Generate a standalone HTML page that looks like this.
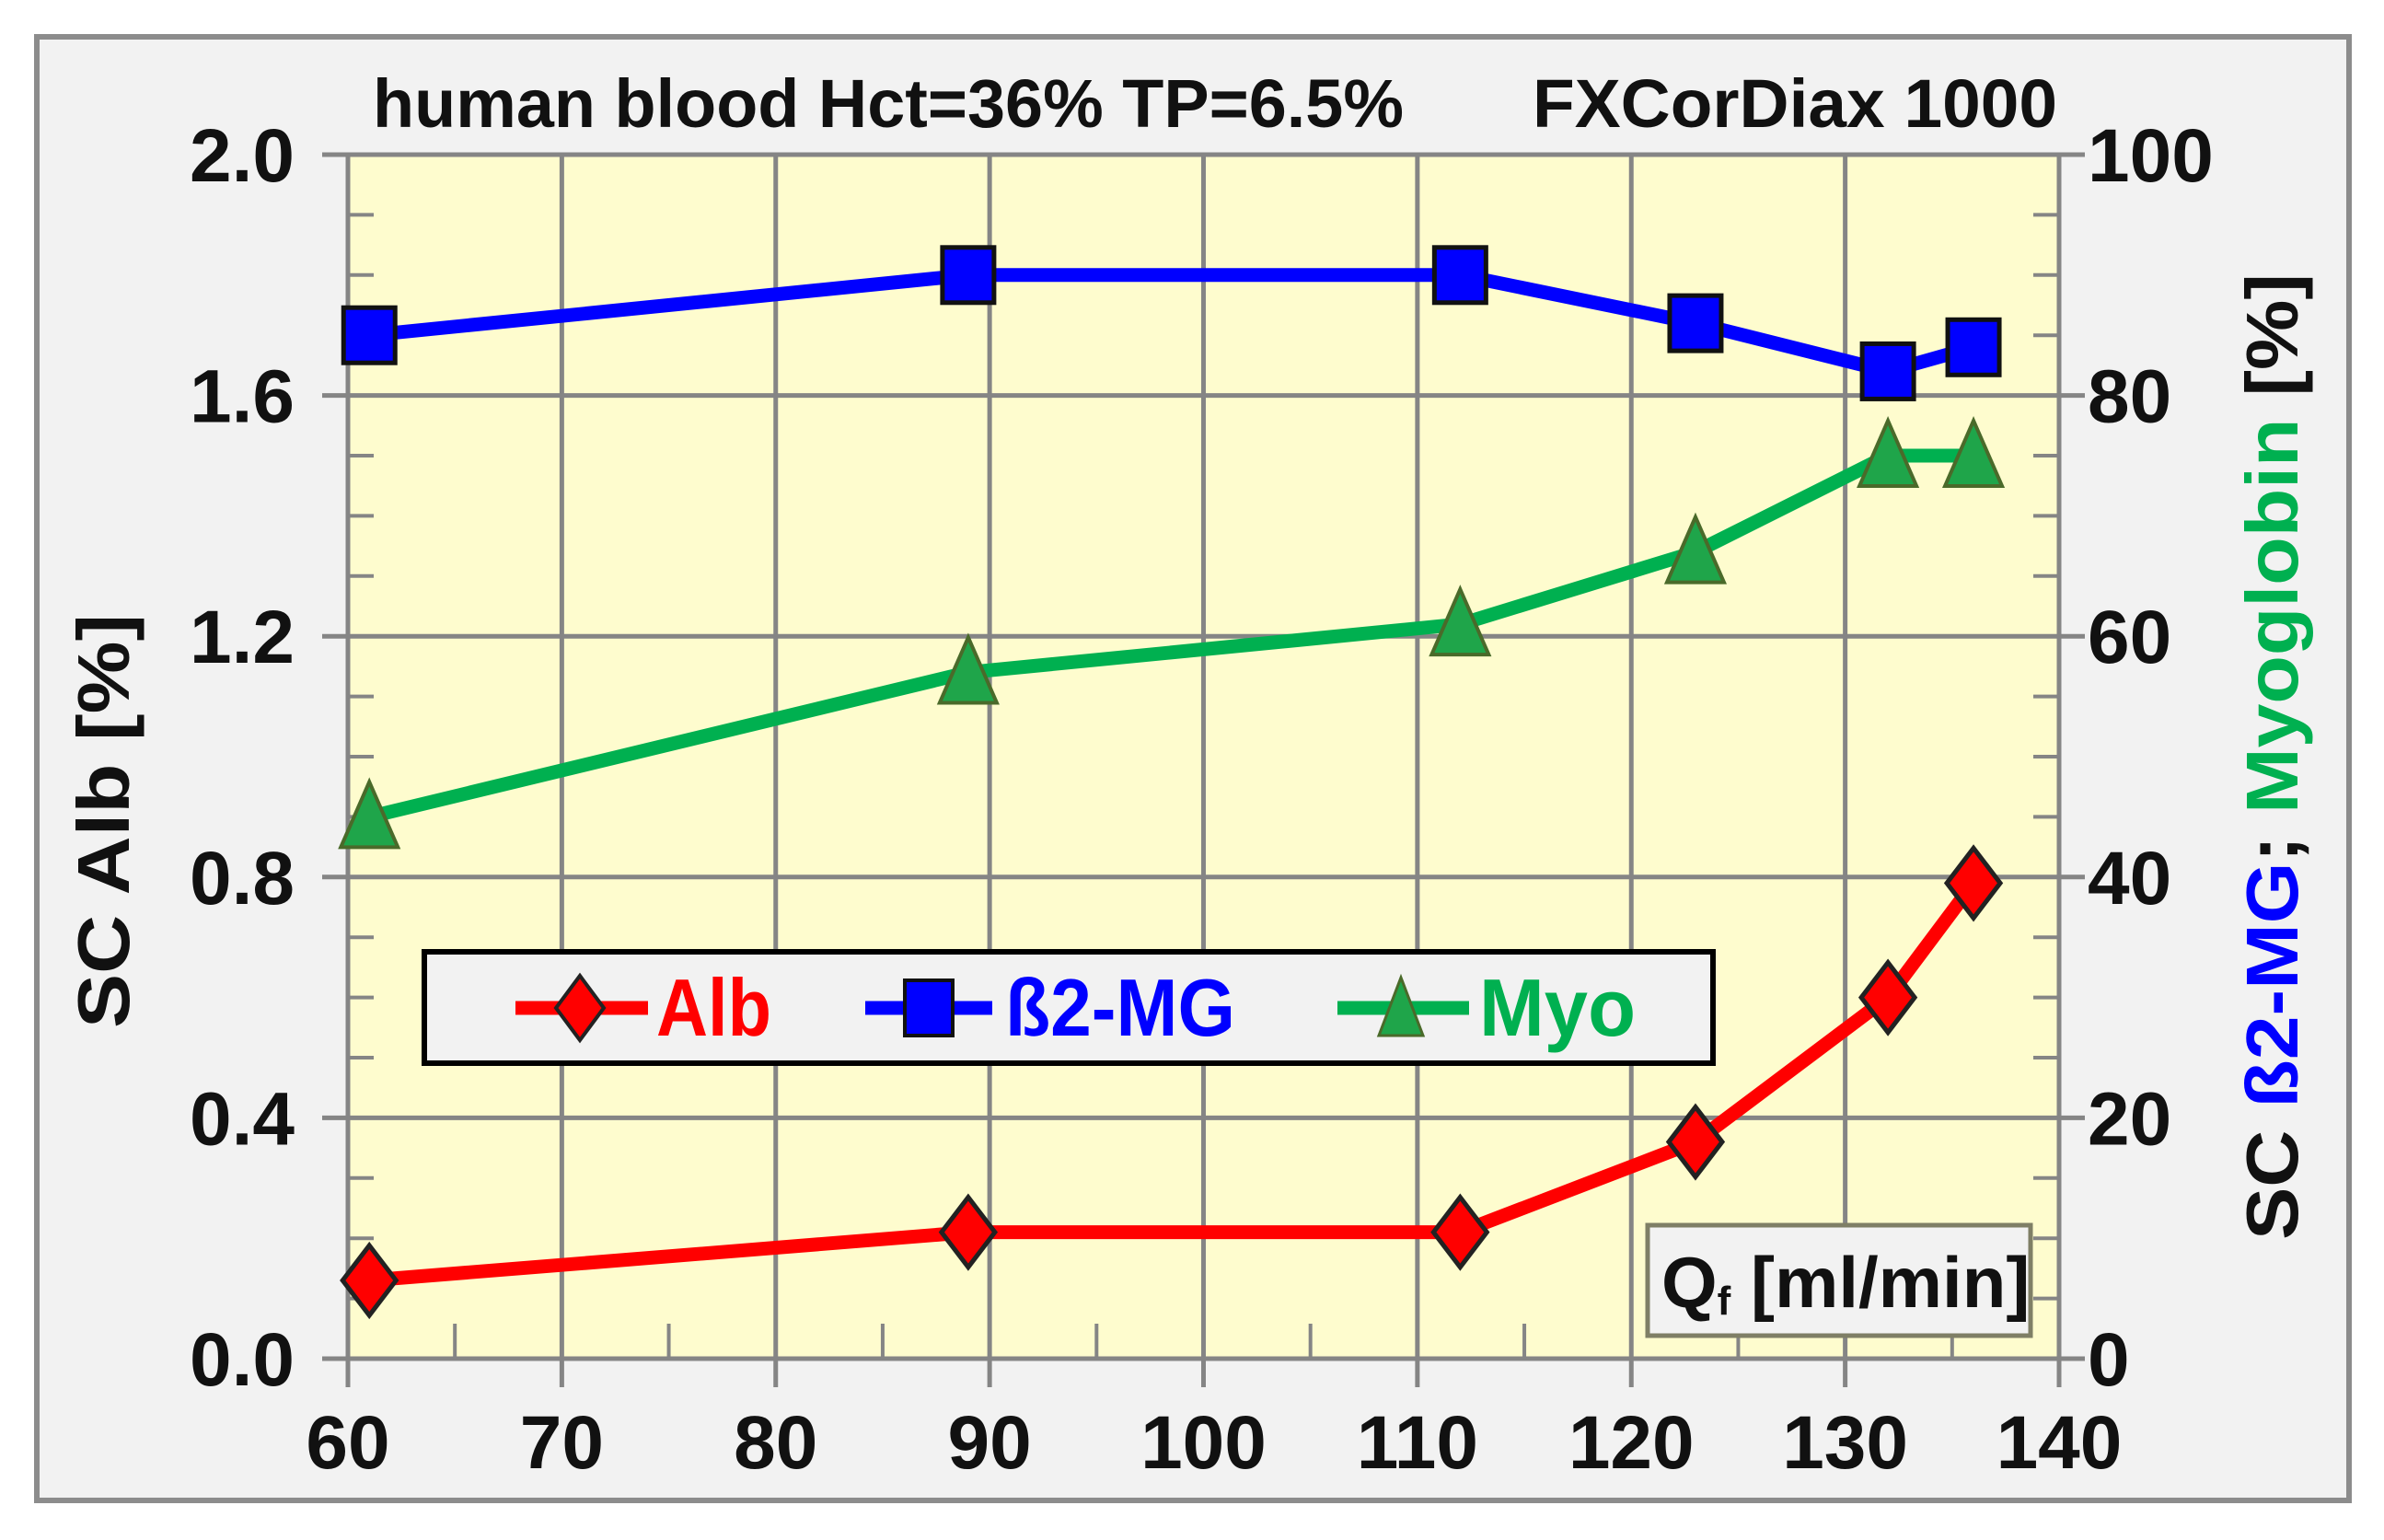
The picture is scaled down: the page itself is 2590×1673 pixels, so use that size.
<!DOCTYPE html>
<html><head><meta charset="utf-8">
<style>
html,body{margin:0;padding:0;background:#fff;}
svg{display:block;}
text{font-family:"Liberation Sans",sans-serif;font-weight:bold;}
</style></head>
<body>
<svg id="chart" width="2590" height="1673" viewBox="0 0 2590 1673" xmlns="http://www.w3.org/2000/svg">
<rect x="40" y="40" width="2512" height="1590" fill="#f2f2f2" stroke="#8c8c8c" stroke-width="6"/>
<rect x="378" y="168" width="1859" height="1308" fill="#fefcce"/>
<g id="grid"></g>
<g id="ticks"></g>
<g id="labels"></g>
<g id="series"></g>
<text x="405" y="138" font-size="74" textLength="1120" lengthAdjust="spacingAndGlyphs" fill="#111">human blood Hct=36%  TP=6.5%</text>
<text x="1665" y="138" font-size="74" textLength="570" lengthAdjust="spacingAndGlyphs" fill="#111">FXCorDiax 1000</text>
<text transform="translate(140,892) rotate(-90)" text-anchor="middle" font-size="80" textLength="450" lengthAdjust="spacingAndGlyphs" fill="#111">SC Alb [%]</text>
<text transform="translate(2496,822) rotate(-90)" text-anchor="middle" font-size="80" textLength="1050" lengthAdjust="spacingAndGlyphs" fill="#111">SC <tspan fill="#0000ff">ß2-MG</tspan>; <tspan fill="#00b050">Myoglobin</tspan> [%]</text>
<g>
<rect x="461" y="1034" width="1400" height="121" fill="#f2f2f2" stroke="#000" stroke-width="6"/>
<g>
<line x1="560" y1="1095" x2="704" y2="1095" stroke="#ff0000" stroke-width="15"/>
<polygon points="630,1060 656,1095 630,1130 604,1095" fill="#ff0000" stroke="#222" stroke-width="4"/>
<text x="713" y="1125" font-size="88" textLength="125" lengthAdjust="spacingAndGlyphs" fill="#ff0000">Alb</text>
</g>
<g>
<line x1="940" y1="1095" x2="1078" y2="1095" stroke="#0000ff" stroke-width="15"/>
<rect x="983" y="1065" width="52" height="60" fill="#0000ff" stroke="#111" stroke-width="4"/>
<text x="1092" y="1125" font-size="88" textLength="250" lengthAdjust="spacingAndGlyphs" fill="#0000ff">ß2-MG</text>
</g>
<g>
<line x1="1453" y1="1095" x2="1596" y2="1095" stroke="#00b050" stroke-width="15"/>
<polygon points="1522,1062 1546,1125 1498,1125" fill="#1fa54a" stroke="#4a6a2a" stroke-width="3"/>
<text x="1607" y="1125" font-size="88" textLength="170" lengthAdjust="spacingAndGlyphs" fill="#00b050">Myo</text>
</g>
</g>
<g>
<rect x="1790" y="1331" width="416" height="120" fill="#f2f2f2" stroke="#7f7f66" stroke-width="5"/>
<text x="1805" y="1420" font-size="78" fill="#111">Q<tspan font-size="44" dy="8">f</tspan><tspan dy="-8"> [ml/min]</tspan></text>
</g>
</svg>
<script>
const xValues = [61, 89, 112, 123, 132, 136];
const albValues = [0.13, 0.21, 0.21, 0.36, 0.60, 0.79];
const b2mgValues = [85, 90, 90, 86, 82, 84];
const myoValues = [45, 57, 61, 67, 75, 75];
const xTicks = [60, 70, 80, 90, 100, 110, 120, 130, 140];
const yLeftTicks = [0.0, 0.4, 0.8, 1.2, 1.6, 2.0];
const yLeftLabels = ["0.0", "0.4", "0.8", "1.2", "1.6", "2.0"];
const yRightTicks = [0, 20, 40, 60, 80, 100];

const NS = "http://www.w3.org/2000/svg";
const L = 378, R = 2237, T = 168, B = 1476;
function xs(v){ return L + (v - 60) / 80 * (R - L); }
function yl(v){ return B - v / 2.0 * (B - T); }
function yr(v){ return B - v / 100 * (B - T); }
function mk(tag, attrs, parent){
  const e = document.createElementNS(NS, tag);
  for (const k in attrs) e.setAttribute(k, attrs[k]);
  parent.appendChild(e);
  return e;
}
const grid = document.getElementById('grid');
const ticks = document.getElementById('ticks');
const labels = document.getElementById('labels');
const series = document.getElementById('series');
const gcol = "#858585";

xTicks.forEach((t) => {
  const x = xs(t);
  const g = mk('line', {x1:x, y1:T, x2:x, y2:B+31, stroke:gcol, 'stroke-width':5}, grid);
  
  
  const lb = mk('text', {x:x, y:1595, 'text-anchor':'middle', 'font-size':82, fill:'#111'}, labels);
  lb.textContent = String(t);
  
  
});
for (let i = 0; i < xTicks.length - 1; i++) {
  const x = xs((xTicks[i] + xTicks[i+1]) / 2);
  const m = mk('line', {x1:x, y1:B-38, x2:x, y2:B, stroke:gcol, 'stroke-width':4}, ticks);
  
  
}
yLeftTicks.forEach((t, i) => {
  const y = yl(t);
  const g = mk('line', {x1:L-28, y1:y, x2:R+28, y2:y, stroke:gcol, 'stroke-width':5}, grid);
  
  
  const lb = mk('text', {x:320, y:y+29, 'text-anchor':'end', 'font-size':82, fill:'#111'}, labels);
  lb.textContent = yLeftLabels[i];
  
  
});
yRightTicks.forEach((t) => {
  const y = yr(t);
  const lb = mk('text', {x:2268, y:y+29, 'text-anchor':'start', 'font-size':82, fill:'#111'}, labels);
  lb.textContent = String(t);
  
  
});
for (let i = 0; i < yLeftTicks.length - 1; i++) {
  for (let k = 1; k < 4; k++) {
    const y = yl(yLeftTicks[i] + k * 0.1);
    const m = mk('line', {x1:L, y1:y, x2:L+28, y2:y, stroke:gcol, 'stroke-width':4}, ticks);
    
    
    const m2 = mk('line', {x1:R-28, y1:y, x2:R, y2:y, stroke:gcol, 'stroke-width':4}, ticks);
    
    
  }
}
const ax1 = mk('line', {x1:L, y1:T, x2:L, y2:B+31, stroke:gcol, 'stroke-width':5}, grid);


const ax2 = mk('line', {x1:R, y1:T, x2:R, y2:B+31, stroke:gcol, 'stroke-width':5}, grid);



function drawLine(vals, yf, color, name){
  const pts = vals.map((v, i) => xs(xValues[i]) + ',' + yf(v)).join(' ');
  const pl = mk('polyline', {points:pts, fill:'none', stroke:color, 'stroke-width':15, 'stroke-linejoin':'round'}, series);
  
  
}
drawLine(b2mgValues, yr, '#0000ff', 'b2mg-line');
drawLine(myoValues, yr, '#00b050', 'myo-line');
drawLine(albValues, yl, '#ff0000', 'alb-line');

b2mgValues.forEach((v, i) => {
  const x = xs(xValues[i]), y = yr(v);
  const r = mk('rect', {x:x-28, y:y-30, width:56, height:60, fill:'#0000ff', stroke:'#111', 'stroke-width':5}, series);
  
  
});
myoValues.forEach((v, i) => {
  const x = xs(xValues[i]), y = yr(v);
  const p = mk('polygon', {points:`${x},${y-38} ${x+31},${y+33} ${x-31},${y+33}`, fill:'#1fa54a', stroke:'#4a6a2a', 'stroke-width':4}, series);
  
  
});
albValues.forEach((v, i) => {
  const x = xs(xValues[i]), y = yl(v);
  const p = mk('polygon', {points:`${x},${y-38} ${x+29},${y} ${x},${y+38} ${x-29},${y}`, fill:'#ff0000', stroke:'#222', 'stroke-width':5}, series);
  
  
});
</script>
</body></html>
